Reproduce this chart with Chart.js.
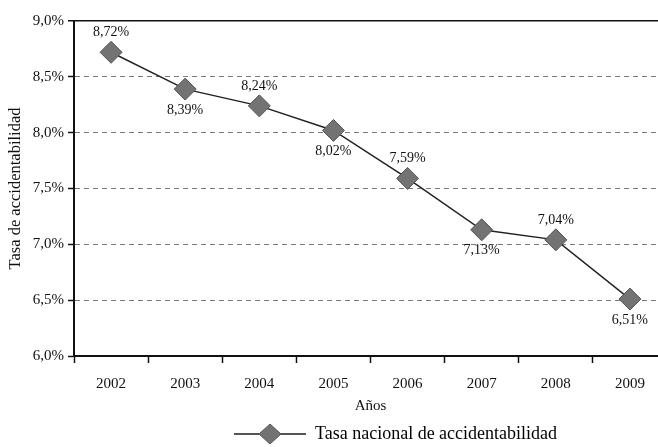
<!DOCTYPE html>
<html>
<head>
<meta charset="utf-8">
<script src="https://cdn.jsdelivr.net/npm/chart.js@4/dist/chart.umd.min.js"></script>
<style>
  html, body { margin: 0; padding: 0; background: #fff; }
  #frame { width: 658px; height: 447px; overflow: hidden; position: relative; }
  canvas { display: block; }
</style>
</head>
<body>
<div id="frame"><canvas id="chart" width="668" height="447"></canvas></div>
<script>
const YEARS = ["2002", "2003", "2004", "2005", "2006", "2007", "2008", "2009"];
const RATES = [8.72, 8.39, 8.24, 8.02, 7.59, 7.13, 7.04, 6.51];
// where each value label sits relative to its marker
const LABEL_SIDE = ["up", "down", "up", "down", "up", "down", "up", "down"];
const Y_MIN = 6, Y_MAX = 9, Y_STEP = 0.5;

const SERIF = "'Liberation Serif', 'Times New Roman', serif";
const MARKER_FILL = "#737373";
const MARKER_EDGE = "#555555";

const fmtPct = v => v.toFixed(2).replace(".", ",") + "%";
const fmtTick = v => Number(v).toFixed(1).replace(".", ",") + "%";

/* legend symbol: short line with a diamond in the middle, padded on the left */
function legendSymbol() {
    const pad = 124, w = pad + 72, h = 26;
    const c = document.createElement("canvas");
    c.width = w; c.height = h;
    const g = c.getContext("2d");
    g.strokeStyle = "#555";
    g.lineWidth = 2;
    g.beginPath();
    g.moveTo(pad, h / 2);
    g.lineTo(w, h / 2);
    g.stroke();
    const cx = pad + 36, cy = h / 2, rx = 11, ry = 10;
    g.beginPath();
    g.moveTo(cx, cy - ry); g.lineTo(cx + rx, cy); g.lineTo(cx, cy + ry); g.lineTo(cx - rx, cy);
    g.closePath();
    g.fillStyle = MARKER_FILL;
    g.fill();
    g.strokeStyle = MARKER_EDGE;
    g.lineWidth = 1;
    g.stroke();
    return c;
}

/* value labels above / below the markers */
const valueLabels = {
    id: "valueLabels",
    afterDatasetsDraw(chart) {
        const ctx = chart.ctx;
        const meta = chart.getDatasetMeta(0);
        ctx.save();
        ctx.font = "14px " + SERIF;
        ctx.fillStyle = "#111";
        ctx.textAlign = "center";
        ctx.textBaseline = "middle";
        meta.data.forEach((pt, i) => {
            const dy = LABEL_SIDE[i] === "up" ? -20 : 21;
            ctx.fillText(fmtPct(RATES[i]), pt.x, pt.y + dy);
        });
        ctx.restore();
    }
};

const symbol = legendSymbol();

new Chart(document.getElementById("chart"), {
    type: "line",
    data: {
        labels: YEARS,
        datasets: [{
            label: "Tasa nacional de accidentabilidad",
            data: RATES,
            borderColor: "#222",
            borderWidth: 1.5,
            pointStyle: "rectRot",
            pointRadius: 11,
            pointBackgroundColor: MARKER_FILL,
            pointBorderColor: MARKER_EDGE,
            pointBorderWidth: 1,
            tension: 0
        }]
    },
    options: {
        responsive: false,
        animation: false,
        layout: { autoPadding: false, padding: { left: 0, right: 1, top: 21, bottom: -6 } },
        plugins: {
            tooltip: { enabled: false },
            legend: {
                position: "bottom",
                labels: {
                    usePointStyle: true,
                    pointStyleWidth: symbol.width,
                    padding: 8,
                    color: "#111",
                    font: { family: SERIF, size: 18 },
                    generateLabels: chart => [{
                        text: chart.data.datasets[0].label,
                        pointStyle: symbol,
                        fillStyle: MARKER_FILL,
                        strokeStyle: MARKER_EDGE,
                        lineWidth: 0,
                        datasetIndex: 0
                    }]
                }
            }
        },
        scales: {
            x: {
                offset: true,
                grid: {
                    offset: true,
                    drawOnChartArea: false,
                    tickLength: 7,
                    tickColor: "#111",
                    tickWidth: 1.5
                },
                border: { color: "#111", width: 2 },
                ticks: { color: "#111", padding: 12, font: { family: SERIF, size: 15 } },
                title: {
                    display: true,
                    text: "Años",
                    color: "#111",
                    font: { family: SERIF, size: 15 },
                    padding: { top: 0, bottom: 2 }
                },
                afterFit: s => { s.height = 61; }
            },
            y: {
                min: Y_MIN,
                max: Y_MAX,
                ticks: {
                    stepSize: Y_STEP,
                    color: "#111",
                    padding: 4,
                    font: { family: SERIF, size: 15 },
                    callback: v => fmtTick(v)
                },
                grid: {
                    color: c => c.tick.value === Y_MAX ? "#111" : (c.tick.value === Y_MIN ? "rgba(0,0,0,0)" : "#7a7a7a"),
                    lineWidth: c => c.tick.value === Y_MAX ? 1.5 : 1,
                    tickLength: 6,
                    tickColor: "#111",
                    tickWidth: 1.5,
                    tickBorderDash: []
                },
                border: {
                    color: "#111",
                    width: 2,
                    dash: c => c.tick && c.tick.value === Y_MAX ? [] : [5, 4]
                },
                title: {
                    display: true,
                    text: "Tasa de accidentabilidad",
                    color: "#111",
                    font: { family: SERIF, size: 16.5 },
                    padding: { top: 6, bottom: 0 }
                },
                afterFit: s => { s.width = 74; }
            }
        }
    },
    plugins: [valueLabels]
});
</script>
</body>
</html>
